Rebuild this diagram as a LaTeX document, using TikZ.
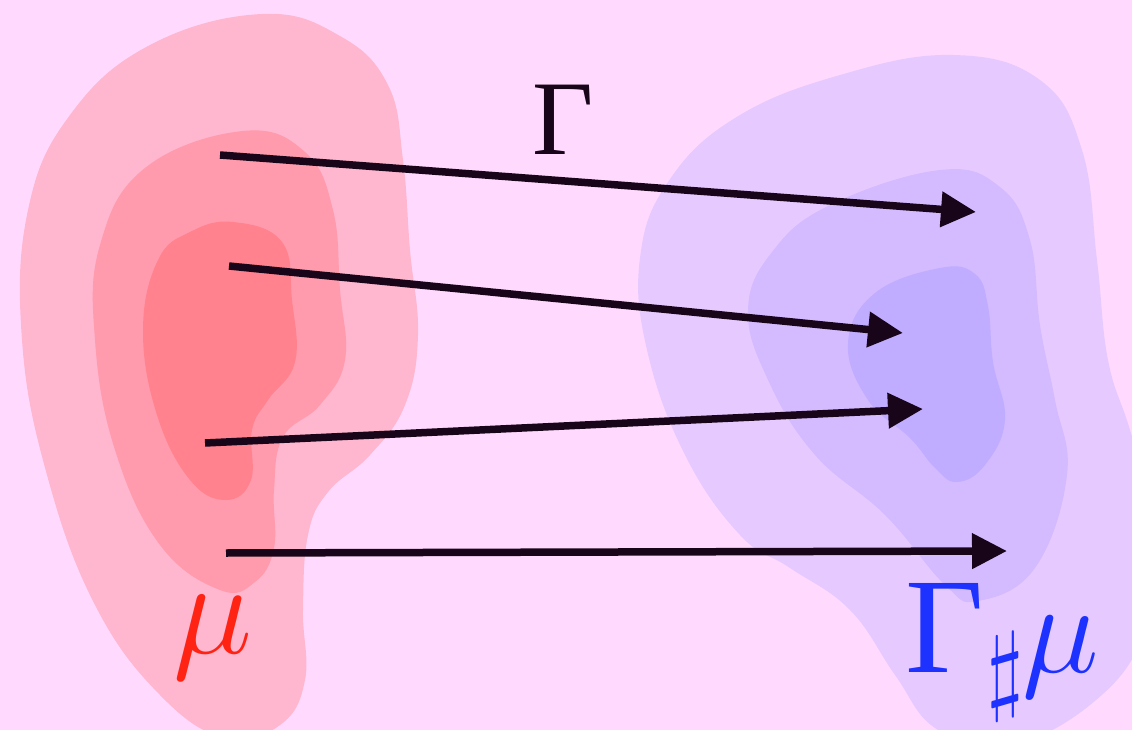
\documentclass[tikz,border=0pt]{standalone}
\usepackage{fix-cm}
\usepackage{fontspec}
\newfontfamily\tms{Liberation Serif}
\usetikzlibrary{arrows.meta}
\definecolor{bgc}{RGB}{255,218,254}
\definecolor{pinkA}{RGB}{255,182,207}
\definecolor{pinkB}{RGB}{255,155,172}
\definecolor{pinkC}{RGB}{255,130,142}
\definecolor{purA}{RGB}{230,202,255}
\definecolor{purB}{RGB}{212,187,255}
\definecolor{purC}{RGB}{192,173,255}
\definecolor{arrc}{RGB}{25,5,25}
\definecolor{redmu}{RGB}{255,35,20}
\definecolor{bluemu}{RGB}{30,50,255}
\tikzset{
  blob/.style={smooth cycle, tension=0.7},
  maparrow/.style={draw=arrc, line width=7.5pt, -{Triangle[length=35pt,width=34pt]}},
  lbl/.style={inner sep=0pt, outer sep=0pt}
}
\begin{document}
\begin{tikzpicture}[x=1pt,y=-1pt]
\fill[bgc] (0,0) rectangle (1132,730);
\useasboundingbox (0,0) rectangle (1132,730);
\clip (0,0) rectangle (1132,730);
% left blobs
\fill[pinkA] plot[blob] coordinates {(262,14) (340,36) (388,85) (403,160) (410,250) (418,335) (405,405) (370,455) (328,492) (308,535) (303,610) (305,680) (280,725) (225,738) (160,695) (95,605) (47,475) (22,340) (28,210) (70,115) (150,45)};
\fill[pinkB] plot[blob] coordinates {(243,131) (305,152) (333,210) (340,290) (345,360) (320,405) (283,437) (274,490) (274,548) (255,582) (220,590) (160,545) (115,450) (95,340) (100,245) (145,168)};
\fill[pinkC] plot[blob] coordinates {(233,222) (282,242) (292,300) (295,362) (268,400) (252,430) (251,480) (226,500) (190,480) (157,415) (143,330) (158,260) (190,232)};
% right blobs
\fill[purA] plot[blob] coordinates {(953,55) (1040,80) (1082,150) (1097,260) (1108,360) (1130,430) (1155,520) (1145,630) (1090,705) (1000,748) (935,728) (895,675) (850,610) (790,568) (740,535) (685,455) (647,350) (640,258) (668,182) (735,118) (840,75)};
\fill[purB] plot[blob] coordinates {(940,170) (1000,187) (1030,240) (1040,325) (1055,400) (1067,475) (1035,568) (978,601) (945,585) (885,515) (815,455) (768,380) (748,310) (772,252) (830,205)};
\fill[purC] plot[blob] coordinates {(940,268) (975,274) (988,306) (993,362) (1005,420) (985,465) (957,482) (935,468) (910,438) (868,400) (848,343) (875,293)};
% arrow ends
\coordinate (s1) at (220,155);
\coordinate (t1) at (976,212);
\coordinate (s2) at (229,266);
\coordinate (t2) at (903,333);
\coordinate (s3) at (205,443);
\coordinate (t3) at (923,409);
\coordinate (s4) at (226,553);
\coordinate (t4) at (1007,551);
\draw[maparrow] (s1) -- (t1);
\draw[maparrow] (s2) -- (t2);
\draw[maparrow] (s3) -- (t3);
\draw[maparrow] (s4) -- (t4);
% labels
\node[lbl, text=arrc] (gam) at (563,120) {\fontsize{106}{106}\selectfont\tms Γ};
\node[lbl, text=redmu] (mu) at (213,638) {\fontsize{134}{134}\selectfont$\mu$};
\node[lbl, text=bluemu, anchor=base west] (push) at (905,672) {\fontsize{136}{136}\selectfont\tms Γ\hspace{3pt}\raisebox{-29pt}{\fontsize{99}{99}\selectfont$\sharp$}\hspace{-2pt}{\fontsize{130}{130}\selectfont$\mu$}};
\end{tikzpicture}
\end{document}
